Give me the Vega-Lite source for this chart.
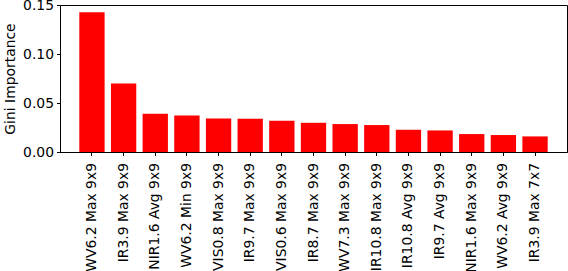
{
  "$schema": "https://vega.github.io/schema/vega-lite/v6.json",
  "autosize": {"type": "none"},
  "padding": {"left": 60, "top": 5, "right": 1, "bottom": 119},
  "width": 507,
  "height": 147,
  "background": "white",
  "config": {
    "font": "DejaVu Sans",
    "view": {"stroke": "black", "strokeWidth": 1},
    "axis": {
      "labelFont": "DejaVu Sans",
      "titleFont": "DejaVu Sans",
      "labelFontSize": 13.9,
      "titleFontSize": 13.9,
      "titleFontWeight": "normal",
      "labelColor": "black",
      "titleColor": "black",
      "tickColor": "black",
      "domainColor": "black",
      "tickSize": 3.5,
      "grid": false
    }
  },
  "data": {
    "values": [
      {"feature": "WV6.2 Max 9x9", "importance": 0.1426},
      {"feature": "IR3.9 Max 9x9", "importance": 0.0699},
      {"feature": "NIR1.6 Avg 9x9", "importance": 0.0390},
      {"feature": "WV6.2 Min 9x9", "importance": 0.0373},
      {"feature": "VIS0.8 Max 9x9", "importance": 0.0342},
      {"feature": "IR9.7 Max 9x9", "importance": 0.0339},
      {"feature": "VIS0.6 Max 9x9", "importance": 0.0319},
      {"feature": "IR8.7 Max 9x9", "importance": 0.0298},
      {"feature": "WV7.3 Max 9x9", "importance": 0.0285},
      {"feature": "IR10.8 Max 9x9", "importance": 0.0275},
      {"feature": "IR10.8 Avg 9x9", "importance": 0.0227},
      {"feature": "IR9.7 Avg 9x9", "importance": 0.0220},
      {"feature": "NIR1.6 Max 9x9", "importance": 0.0183},
      {"feature": "WV6.2 Avg 9x9", "importance": 0.0173},
      {"feature": "IR3.9 Max 7x7", "importance": 0.0159}
    ]
  },
  "mark": {"type": "bar", "color": "#ff0000"},
  "encoding": {
    "x": {
      "field": "feature",
      "type": "nominal",
      "sort": null,
      "scale": {"paddingInner": 0.2, "paddingOuter": 0.61},
      "axis": {"title": null, "labelAngle": -90, "labelPadding": 7, "labelLimit": 300}
    },
    "y": {
      "field": "importance",
      "type": "quantitative",
      "scale": {"domain": [0, 0.15], "nice": false},
      "axis": {"title": "Gini Importance", "values": [0, 0.05, 0.1, 0.15], "format": ".2f", "labelPadding": 3, "titlePadding": 5}
    }
  }
}
